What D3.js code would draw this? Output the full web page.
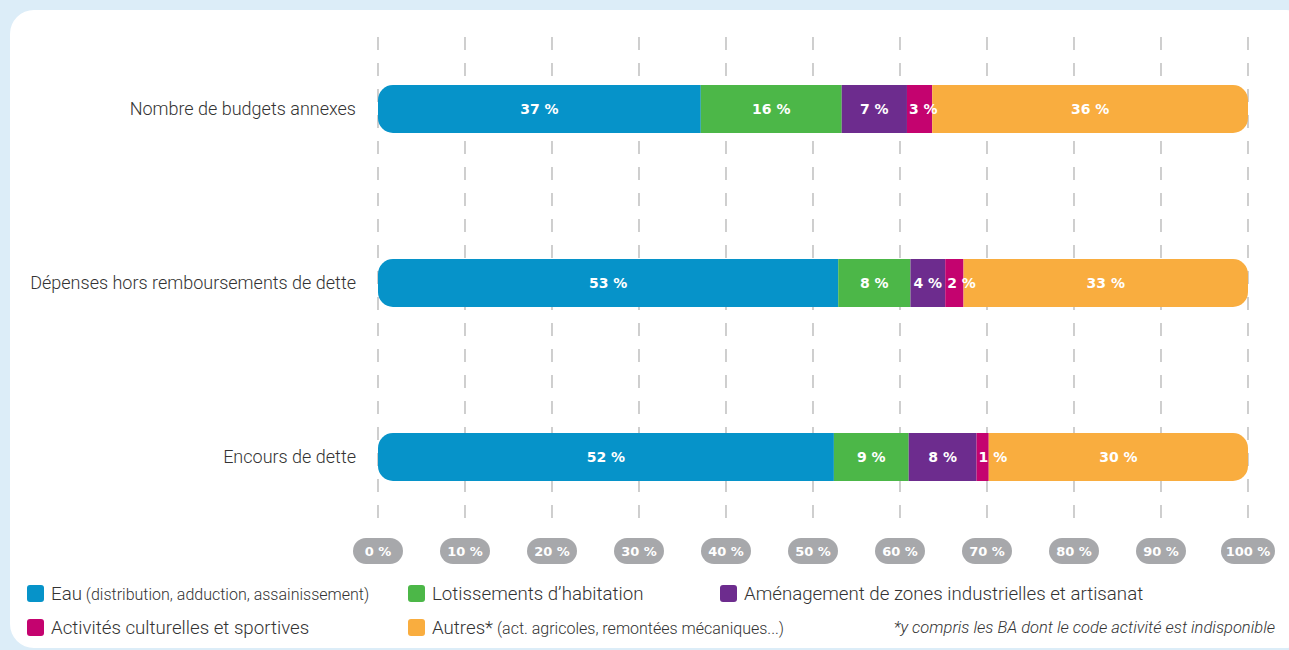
<!DOCTYPE html>
<html lang="fr">
<head>
    <meta charset="UTF-8">
    <title>Budgets annexes par activité</title>
    <script src="https://d3js.org/d3.v7.min.js"></script>
    <style>
        html, body { margin: 0; padding: 0; background: #dcedf8; }
        svg { display: block; }
        .cat { font-family: Roboto, sans-serif; font-weight: 300; font-size: 18px; fill: #333; }
        .val { font-family: "DejaVu Sans", sans-serif; font-weight: bold; font-size: 14px; fill: #fff; }
        .tick { font-family: "DejaVu Sans", sans-serif; font-weight: bold; font-size: 13px; fill: #fff; }
        .leg { font-family: Roboto, sans-serif; font-weight: 300; font-size: 18.7px; fill: #333; }
        .leg tspan.small { font-size: 16px; }
        .note { font-family: Roboto, sans-serif; font-weight: 300; font-style: italic; font-size: 16.5px; fill: #333; }
    </style>
</head>
<body>
    <svg width="1289" height="650"></svg>
    <script>
        // données (en %)
        const categories = ["Nombre de budgets annexes", "Dépenses hors remboursements de dette", "Encours de dette"];
        const series = ["eau", "lotissements", "amenagement", "activites", "autres"];
        const eau = [37.1, 52.9, 52.4];
        const lotissements = [16.2, 8.3, 8.6];
        const amenagement = [7.5, 4.0, 7.8];
        const activites = [2.9, 2.1, 1.4];
        const autres = [36.3, 32.7, 29.8];
        const labels = [
            ["37 %", "16 %", "7 %", "3 %", "36 %"],
            ["53 %", "8 %", "4 %", "2 %", "33 %"],
            ["52 %", "9 %", "8 %", "1 %", "30 %"]
        ];
        const ticks = [0, 10, 20, 30, 40, 50, 60, 70, 80, 90, 100];
        const colors = ["#0693c9", "#4cb748", "#6d2c8e", "#c4036f", "#f9ad3f"];

        const svg = d3.select("svg");

        // panneau blanc
        svg.append("rect")
            .attr("x", 10).attr("y", 10)
            .attr("width", 1300).attr("height", 638)
            .attr("rx", 24)
            .attr("fill", "#fff");

        const x = d3.scaleLinear().domain([0, 100]).range([378, 1248]);
        const y = d3.scaleBand().domain(categories).range([-2, 568]).paddingInner(0.724).paddingOuter(0.5);

        // grille verticale en pointillés
        svg.append("g").selectAll("line")
            .data(ticks)
            .enter().append("line")
            .attr("x1", d => x(d)).attr("x2", d => x(d))
            .attr("y1", 37).attr("y2", 528)
            .attr("stroke", "#b5b5b5")
            .attr("stroke-width", 1.3)
            .attr("stroke-dasharray", "13,13");

        const rows = categories.map((c, i) => {
            const vals = [eau[i], lotissements[i], amenagement[i], activites[i], autres[i]];
            let acc = 0;
            return vals.map((v, j) => {
                const seg = { cat: c, row: i, key: series[j], x0: acc, x1: acc + v, label: labels[i][j], color: colors[j] };
                acc += v;
                return seg;
            });
        });

        const defs = svg.append("defs");
        rows.forEach((segs, i) => {
            defs.append("clipPath").attr("id", "clip" + i)
                .append("rect")
                .attr("x", x(0)).attr("y", y(categories[i]))
                .attr("width", x(segs[segs.length - 1].x1) - x(0))
                .attr("height", y.bandwidth())
                .attr("rx", 15);
        });

        const bars = svg.append("g");
        rows.forEach((segs, i) => {
            const g = bars.append("g").attr("clip-path", "url(#clip" + i + ")");
            g.selectAll("rect")
                .data(segs)
                .enter().append("rect")
                .attr("x", d => x(d.x0))
                .attr("y", y(categories[i]))
                .attr("width", d => x(d.x1) - x(d.x0))
                .attr("height", y.bandwidth())
                .attr("fill", d => d.color);

            bars.append("g").selectAll("text")
                .data(segs)
                .enter().append("text")
                .attr("class", "val")
                .attr("x", d => (d.x1 - d.x0) < 3.5 ? x(d.x0) + 2 : (x(d.x0) + x(d.x1)) / 2)
                .attr("text-anchor", d => (d.x1 - d.x0) < 3.5 ? "start" : "middle")
                .attr("y", y(categories[i]) + y.bandwidth() / 2)
                .attr("dy", "0.36em")
                .text(d => d.label);
        });

        // libellés des catégories
        svg.append("g").selectAll("text")
            .data(categories)
            .enter().append("text")
            .attr("class", "cat")
            .attr("x", 356)
            .attr("y", d => y(d) + y.bandwidth() / 2)
            .attr("dy", "0.35em")
            .attr("text-anchor", "end")
            .text(d => d);

        // étiquettes de l'axe en pastilles
        const tg = svg.append("g").selectAll("g")
            .data(ticks)
            .enter().append("g")
            .attr("transform", d => "translate(" + x(d) + ",551)");
        tg.append("rect")
            .attr("x", d => d === 100 ? -27 : -25)
            .attr("y", -13)
            .attr("width", d => d === 100 ? 54 : 50)
            .attr("height", 26)
            .attr("rx", 13)
            .attr("fill", "#a7a8ab");
        tg.append("text")
            .attr("class", "tick")
            .attr("text-anchor", "middle")
            .attr("dy", "0.36em")
            .text(d => d + " %");

        // légende
        const legend = [
            { c: colors[0], x: 27, y: 593, main: "Eau", small: " (distribution, adduction, assainissement)" },
            { c: colors[1], x: 408, y: 593, main: "Lotissements d’habitation", small: "" },
            { c: colors[2], x: 720, y: 593, main: "Aménagement de zones industrielles et artisanat", small: "" },
            { c: colors[3], x: 27, y: 627, main: "Activités culturelles et sportives", small: "" },
            { c: colors[4], x: 408, y: 627, main: "Autres*", small: " (act. agricoles, remontées mécaniques...)" }
        ];
        const lg = svg.append("g").selectAll("g")
            .data(legend)
            .enter().append("g")
            .attr("transform", d => "translate(" + d.x + "," + d.y + ")");
        lg.append("rect")
            .attr("x", 0).attr("y", -8)
            .attr("width", 17).attr("height", 17)
            .attr("rx", 3)
            .attr("fill", d => d.c);
        const lt = lg.append("text")
            .attr("class", "leg")
            .attr("x", 24)
            .attr("dy", "0.35em");
        lt.append("tspan").text(d => d.main);
        lt.append("tspan").attr("class", "small").text(d => d.small);

        svg.append("text")
            .attr("class", "note")
            .attr("x", 1275).attr("y", 627)
            .attr("dy", "0.35em")
            .attr("text-anchor", "end")
            .text("*y compris les BA dont le code activité est indisponible");
    </script>
</body>
</html>
